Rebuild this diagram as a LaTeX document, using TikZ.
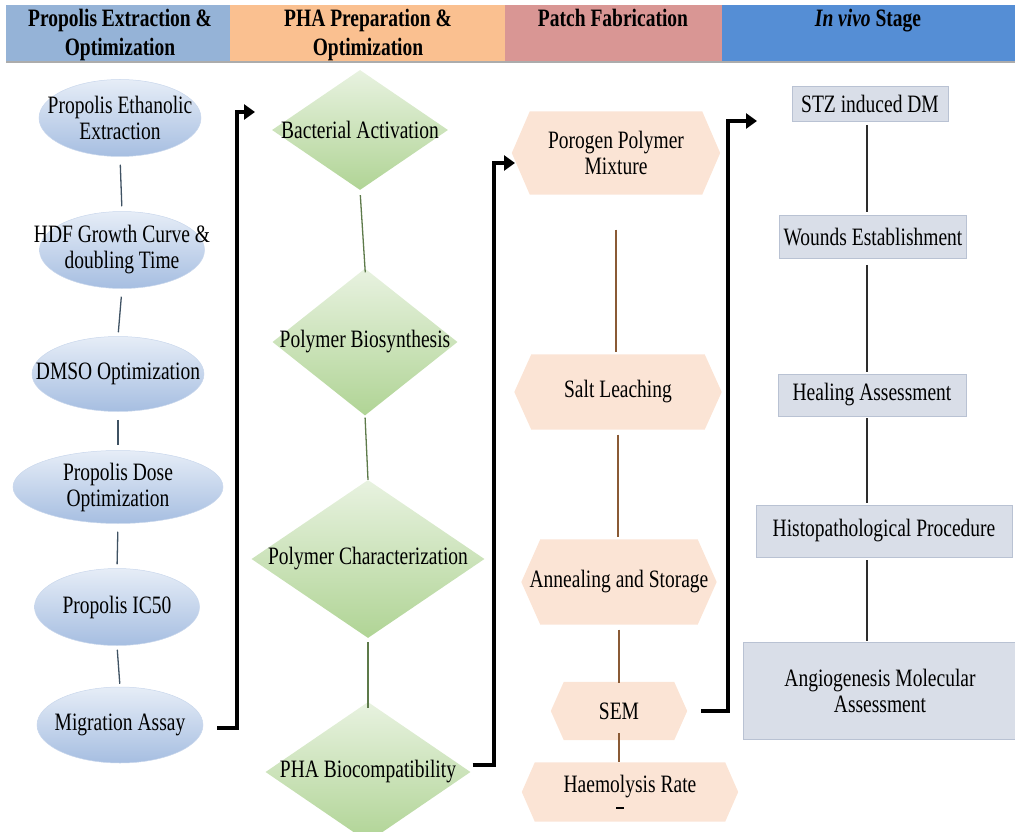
\documentclass[tikz,border=0pt]{standalone}
\usepackage{fontspec}
\setmainfont{Liberation Serif}[FakeStretch=0.78]
\usetikzlibrary{shapes.geometric,arrows.meta}
\pgfdeclarelayer{bg}
\pgfsetlayers{bg,main}
\definecolor{hdrA}{HTML}{95B3D7}
\definecolor{hdrB}{HTML}{FAC090}
\definecolor{hdrC}{HTML}{D99694}
\definecolor{hdrD}{HTML}{558ED5}
\definecolor{ellTop}{HTML}{E6EDF7}
\definecolor{ellBot}{HTML}{A6BEE1}
\definecolor{ellEdge}{HTML}{C9D7EC}
\definecolor{diaTop}{HTML}{E8F2E0}
\definecolor{diaBot}{HTML}{B0D495}
\definecolor{hexFill}{HTML}{FBE4D5}
\definecolor{recFill}{HTML}{D9DEE8}
\definecolor{recEdge}{HTML}{B9C2D3}
\definecolor{cA}{HTML}{3F5263}
\definecolor{cB}{HTML}{5D7A4A}
\definecolor{cC}{HTML}{8A5A35}
\definecolor{cD}{HTML}{2D2D2D}
\begin{document}
\begin{tikzpicture}[x=1pt,y=-1pt,
  txt/.style={font=\fontsize{25}{26}\selectfont, align=center, inner sep=0pt},
  hdr/.style={font=\bfseries\fontsize{25}{28.5}\selectfont, align=center, inner sep=0pt, anchor=north},
  ell/.style={ellipse, top color=ellTop, bottom color=ellBot, draw=ellEdge, line width=0.5pt, inner sep=0pt},
  dia/.style={diamond, top color=diaTop, bottom color=diaBot, draw=none, inner sep=0pt},
  hexn/.style={rectangle, draw=none, inner sep=0pt, txt},
  hexfill/.style={fill=hexFill},
  recbox/.style={rectangle, fill=recFill, draw=recEdge, line width=0.8pt, inner sep=0pt, txt},
  lnA/.style={draw=cA, line width=1.3pt},
  lnB/.style={draw=cB, line width=1.3pt},
  lnC/.style={draw=cC, line width=1.3pt},
  lnD/.style={draw=cD, line width=1.3pt},
  bigarrow/.style={draw=black, line width=4pt, -{Triangle[length=11pt,width=15pt]}}
]
\useasboundingbox (0,0) rectangle (1015,832);

% header bands
\fill[hdrA] (6,5) rectangle (230,62);
\fill[hdrB] (230,5) rectangle (505,62);
\fill[hdrC] (505,5) rectangle (722,62);
\fill[hdrD] (722,5) rectangle (1015,62);
\draw[gray!65, line width=1.5pt] (6,62) -- (1015,62);
\node[hdr] (t1) at (120,9) {Propolis Extraction \&\\Optimization};
\node[hdr] (t2) at (368,9) {PHA Preparation \&\\Optimization};
\node[hdr] (t3) at (613,9) {Patch Fabrication};
\node[hdr] (t4) at (868,9) {\textit{In vivo} Stage};

% column 1: ellipses
\node[ell, minimum width=162pt, minimum height=77pt, label={[txt]center:Propolis Ethanolic\\Extraction}] (e1) at (120,118) {};
\node[ell, minimum width=165pt, minimum height=77pt, label={[txt]center:HDF Growth Curve \&\\doubling Time}] (e2) at (122,250) {};
\node[ell, minimum width=172pt, minimum height=75pt, label={[txt]center:DMSO Optimization}] (e3) at (118,374) {};
\node[ell, minimum width=210pt, minimum height=73pt, label={[txt]center:Propolis Dose\\Optimization}] (e4) at (118,487) {};
\node[ell, minimum width=165pt, minimum height=77pt, label={[txt]center:Propolis IC50}] (e5) at (117,607) {};
\node[ell, minimum width=166pt, minimum height=76pt, label={[txt]center:Migration Assay}] (e6) at (120,725) {};

\draw[lnA, shorten <=8pt, shorten >=5pt] (e1.south) -- (e2.north);
\draw[lnA, shorten <=8pt, shorten >=4pt] (e2.south) -- (e3.north);
\draw[lnA, shorten <=8pt, shorten >=5pt] (e3.south) -- (e4.north);
\draw[lnA, shorten <=8pt, shorten >=4pt] (e4.south) -- (e5.north);
\draw[lnA, shorten <=4pt, shorten >=3pt] (e5.south) -- (e6.north);

% column 2: diamonds
\node[dia, minimum width=176pt, minimum height=120pt, label={[txt]center:Bacterial Activation}] (d1) at (360,130) {};
\node[dia, minimum width=185pt, minimum height=147pt, label={[txt]center:Polymer Biosynthesis}] (d2) at (365,342) {};
\node[dia, minimum width=233pt, minimum height=158pt, label={[txt]center:Polymer Characterization}] (d3) at (368,559) {};
\node[dia, minimum width=205pt, minimum height=140pt, label={[txt]center:PHA Biocompatibility}] (d4) at (368,772) {};

\draw[lnB, shorten <=5pt, shorten >=-4pt] (d1.south) -- (d2.north);
\draw[lnB, shorten <=2pt, shorten >=0pt] (d2.south) -- (d3.north);
\draw[lnB, shorten <=4pt, shorten >=-6pt] (d3.south) -- (d4.north);

% column 3: hexagons
\node[hexn, minimum width=208pt, minimum height=83pt] (h1) at (616,153) {Porogen Polymer\\Mixture};
\node[hexn, minimum width=207pt, minimum height=75pt] (h2) at (618,392) {Salt Leaching};
\node[hexn, minimum width=195pt, minimum height=85pt] (h3) at (619,582) {Annealing and Storage};
\node[hexn, minimum width=136pt, minimum height=58pt] (h4) at (619,711) {SEM};
\node[hexn, minimum width=216pt, minimum height=59pt] (h5) at (630,792) {Haemolysis Rate\\[-10pt]\hspace*{-20pt}\rule{8pt}{1.3pt}};
\begin{pgfonlayer}{bg}
\foreach \n/\d in {h1/18,h2/17,h3/19,h4/13,h5/13}{
  \fill[hexfill] (\n.west) -- ([xshift=\d pt]\n.north west) -- ([xshift=-\d pt]\n.north east)
    -- (\n.east) -- ([xshift=-\d pt]\n.south east) -- ([xshift=\d pt]\n.south west) -- cycle;
}
\end{pgfonlayer}

\draw[lnC, shorten <=35pt, shorten >=2pt] (h1.south) -- (h1.south |- h2.north);
\draw[lnC, shorten <=5pt, shorten >=2pt] (h2.south) -- (h2.south |- h3.north);
\draw[lnC, shorten <=5pt, shorten >=-1pt] (h3.south) -- (h3.south |- h4.north);
\draw[lnC, shorten <=-7pt, shorten >=0pt] (h4.south) -- (h4.south |- h5.north);

% column 4: rectangles
\coordinate (lx) at (867,0);
\node[recbox, minimum width=156pt, minimum height=35pt] (r1) at (870,104) {STZ induced DM};
\node[recbox, minimum width=187pt, minimum height=43pt] (r2) at (873,237) {Wounds Establishment};
\node[recbox, minimum width=188pt, minimum height=42pt] (r3) at (872,395) {Healing Assessment};
\node[recbox, minimum width=256pt, minimum height=52pt] (r4) at (884,531) {Histopathological Procedure};
\node[recbox, minimum width=274pt, minimum height=97pt] (r5) at (880,691) {Angiogenesis Molecular\\Assessment};

\draw[lnD, shorten <=3pt, shorten >=3pt] (r1.south -| lx) -- (r2.north -| lx);
\draw[lnD, shorten <=6pt, shorten >=2pt] (r2.south -| lx) -- (r3.north -| lx);
\draw[lnD, shorten <=2pt, shorten >=2pt] (r3.south -| lx) -- (r4.north -| lx);
\draw[lnD, shorten <=3pt, shorten >=1pt] (r4.south -| lx) -- (r5.north -| lx);

% black connectors between stages
\coordinate (a1) at (255,112);
\coordinate (a2) at (515,163);
\coordinate (a3) at (757,121);
\draw[bigarrow] ([xshift=14pt,yshift=-3pt]e6.east) -- ++(20,0) |- (a1);
\draw[bigarrow] ([xshift=2pt,yshift=7pt]d4.east) -- ++(21,0) |- (a2);
\draw[bigarrow] ([xshift=14pt]h4.east) -- ++(27,0) |- (a3);
\end{tikzpicture}
\end{document}
